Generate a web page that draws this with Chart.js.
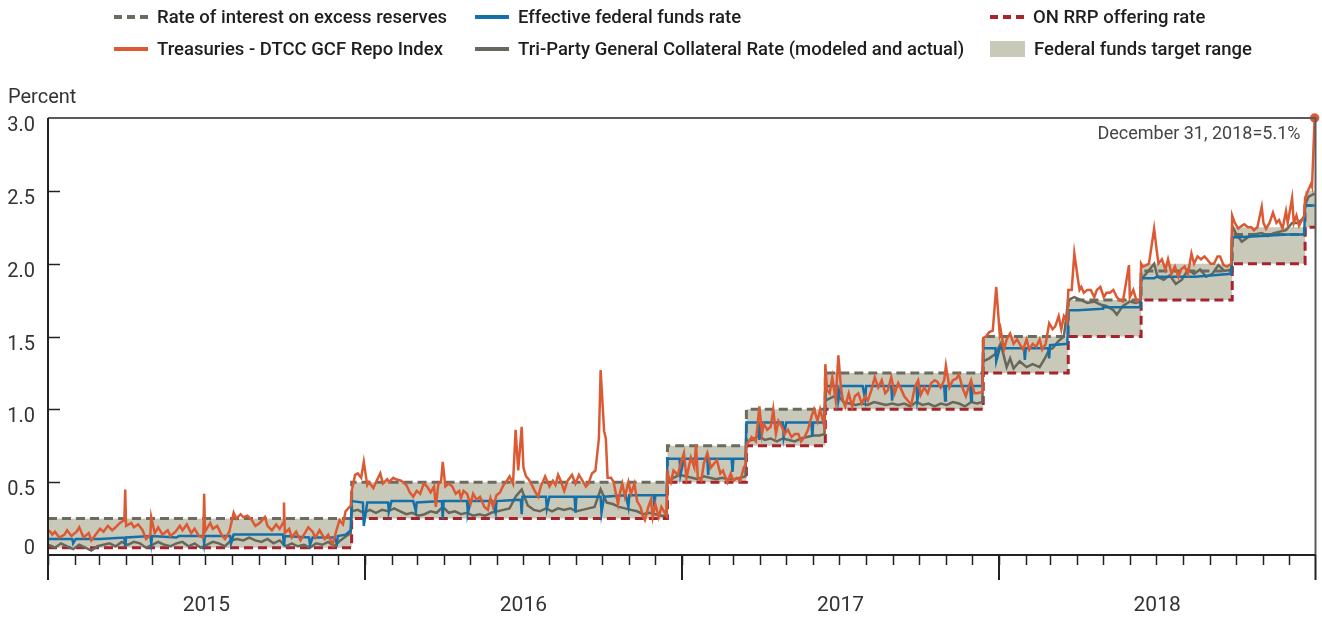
<!DOCTYPE html>
<html lang="en">
<head>
<meta charset="UTF-8">
<title>Money market rates, 2015-2018</title>
<script src="https://cdn.jsdelivr.net/npm/chart.js"></script>
<style>
    html, body { margin: 0; padding: 0; background: #fff; }
    body { width: 1322px; height: 617px; position: relative; overflow: hidden; font-family: Roboto, "Noto Sans", sans-serif; }
    #chartBox { position: absolute; left: 0; top: 0; width: 1322px; height: 617px; }
    .legend-item { position: absolute; display: flex; align-items: center; height: 22px; font-size: 18.5px; font-weight: 500; color: #1e1e1e; white-space: nowrap; }
    .legend-item svg { margin-right: 9px; flex: none; }
</style>
</head>
<body>
<div id="chartBox"><canvas id="chart"></canvas></div>
<div id="legend"></div>
<script>
// policy rates: each value holds from its start date until the next one
const policyDates = ['2015-01-01', '2015-12-17', '2016-12-15', '2017-03-16', '2017-06-15', '2017-12-14', '2018-03-22', '2018-06-14', '2018-09-27', '2018-12-20'];
const ioerRates  = [0.25, 0.50, 0.75, 1.00, 1.25, 1.50, 1.75, 1.95, 2.20, 2.40];
const rrpRates   = [0.05, 0.25, 0.50, 0.75, 1.00, 1.25, 1.50, 1.75, 2.00, 2.25];
const rangeLow   = [0.05, 0.25, 0.50, 0.75, 1.00, 1.25, 1.50, 1.75, 2.00, 2.25];
const rangeHigh  = [0.25, 0.50, 0.75, 1.00, 1.25, 1.50, 1.75, 2.00, 2.25, 2.50];
const seriesEnd = '2019-01-01';

// Treasuries - DTCC GCF Repo Index
const repoIndex = [
    ['2015-01-02',0.17],['2015-01-06',0.14],['2015-01-09',0.16],['2015-01-14',0.12],['2015-01-20',0.14],['2015-01-23',0.17],['2015-01-28',0.13],
    ['2015-02-03',0.16],['2015-02-06',0.19],['2015-02-11',0.12],['2015-02-17',0.15],['2015-02-20',0.10],['2015-02-25',0.14],
    ['2015-03-02',0.18],['2015-03-06',0.16],['2015-03-11',0.20],['2015-03-16',0.17],['2015-03-20',0.19],['2015-03-25',0.22],['2015-03-30',0.24],['2015-03-31',0.45],
    ['2015-04-01',0.20],['2015-04-07',0.22],['2015-04-10',0.19],['2015-04-15',0.21],['2015-04-20',0.17],['2015-04-24',0.11],['2015-04-29',0.14],['2015-04-30',0.26],
    ['2015-05-04',0.15],['2015-05-08',0.19],['2015-05-13',0.14],['2015-05-19',0.17],['2015-05-22',0.13],['2015-05-28',0.16],
    ['2015-06-02',0.20],['2015-06-05',0.17],['2015-06-10',0.21],['2015-06-15',0.15],['2015-06-19',0.18],['2015-06-24',0.13],['2015-06-29',0.12],['2015-06-30',0.42],
    ['2015-07-01',0.16],['2015-07-07',0.22],['2015-07-10',0.18],['2015-07-15',0.20],['2015-07-20',0.14],['2015-07-24',0.11],['2015-07-29',0.16],
    ['2015-08-03',0.29],['2015-08-06',0.25],['2015-08-11',0.28],['2015-08-14',0.26],['2015-08-19',0.27],['2015-08-24',0.24],['2015-08-28',0.20],
    ['2015-09-02',0.22],['2015-09-08',0.26],['2015-09-11',0.20],['2015-09-16',0.17],['2015-09-21',0.21],['2015-09-25',0.18],['2015-09-29',0.22],['2015-09-30',0.36],
    ['2015-10-01',0.15],['2015-10-06',0.18],['2015-10-09',0.12],['2015-10-14',0.16],['2015-10-19',0.10],['2015-10-23',0.14],['2015-10-28',0.19],
    ['2015-11-02',0.16],['2015-11-05',0.12],['2015-11-10',0.17],['2015-11-16',0.11],['2015-11-20',0.14],['2015-11-25',0.07],['2015-11-30',0.18],
    ['2015-12-03',0.24],['2015-12-07',0.21],['2015-12-10',0.30],['2015-12-16',0.34],['2015-12-17',0.44],['2015-12-21',0.55],['2015-12-24',0.56],['2015-12-28',0.53],['2015-12-31',0.64],
    ['2016-01-04',0.48],['2016-01-06',0.50],['2016-01-11',0.46],['2016-01-14',0.50],['2016-01-19',0.56],['2016-01-22',0.49],['2016-01-27',0.52],['2016-01-29',0.50],
    ['2016-02-03',0.53],['2016-02-06',0.52],['2016-02-12',0.51],['2016-02-18',0.48],['2016-02-22',0.43],['2016-02-26',0.40],
    ['2016-03-01',0.44],['2016-03-05',0.42],['2016-03-09',0.49],['2016-03-13',0.47],['2016-03-17',0.43],['2016-03-21',0.47],['2016-03-23',0.33],['2016-03-26',0.49],['2016-03-29',0.50],['2016-03-31',0.64],
    ['2016-04-03',0.47],['2016-04-07',0.49],['2016-04-11',0.47],['2016-04-15',0.42],['2016-04-19',0.44],['2016-04-21',0.39],['2016-04-24',0.44],['2016-04-28',0.42],
    ['2016-05-02',0.35],['2016-05-05',0.42],['2016-05-09',0.38],['2016-05-13',0.40],['2016-05-18',0.33],['2016-05-22',0.31],['2016-05-25',0.39],['2016-05-28',0.33],
    ['2016-06-01',0.41],['2016-06-05',0.43],['2016-06-09',0.48],['2016-06-12',0.50],['2016-06-16',0.54],['2016-06-20',0.49],['2016-06-23',0.86],['2016-06-26',0.58],['2016-06-30',0.88],
    ['2016-07-02',0.60],['2016-07-05',0.54],['2016-07-08',0.52],['2016-07-11',0.49],['2016-07-15',0.44],['2016-07-19',0.40],['2016-07-22',0.47],['2016-07-27',0.54],
    ['2016-08-01',0.47],['2016-08-05',0.51],['2016-08-08',0.48],['2016-08-11',0.55],['2016-08-14',0.51],['2016-08-18',0.44],['2016-08-22',0.51],['2016-08-27',0.55],['2016-08-31',0.49],
    ['2016-09-04',0.55],['2016-09-08',0.51],['2016-09-12',0.47],['2016-09-15',0.49],['2016-09-19',0.56],['2016-09-23',0.58],['2016-09-27',0.80],['2016-09-29',1.27],
    ['2016-10-03',0.85],['2016-10-05',0.80],['2016-10-07',0.53],['2016-10-11',0.53],['2016-10-14',0.50],['2016-10-16',0.44],['2016-10-19',0.35],['2016-10-21',0.42],['2016-10-24',0.49],['2016-10-27',0.40],['2016-10-31',0.50],
    ['2016-11-03',0.42],['2016-11-07',0.49],['2016-11-10',0.37],['2016-11-14',0.33],['2016-11-17',0.26],['2016-11-19',0.24],['2016-11-23',0.33],['2016-11-26',0.38],['2016-11-28',0.26],
    ['2016-12-01',0.35],['2016-12-05',0.26],['2016-12-08',0.33],['2016-12-14',0.27],['2016-12-15',0.56],['2016-12-19',0.50],['2016-12-22',0.58],['2016-12-27',0.55],['2016-12-30',0.62],
    ['2017-01-03',0.70],['2017-01-06',0.53],['2017-01-11',0.67],['2017-01-15',0.60],['2017-01-17',0.76],['2017-01-19',0.53],['2017-01-23',0.51],['2017-01-26',0.63],['2017-01-30',0.70],
    ['2017-02-03',0.60],['2017-02-07',0.63],['2017-02-10',0.65],['2017-02-14',0.56],['2017-02-17',0.58],['2017-02-22',0.50],['2017-02-26',0.56],
    ['2017-03-01',0.51],['2017-03-05',0.53],['2017-03-09',0.51],['2017-03-13',0.60],['2017-03-15',0.62],['2017-03-16',0.76],['2017-03-19',0.78],['2017-03-22',0.81],['2017-03-27',0.78],['2017-03-31',1.02],
    ['2017-04-03',0.83],['2017-04-05',0.90],['2017-04-09',0.86],['2017-04-13',0.88],['2017-04-16',1.00],['2017-04-19',0.83],['2017-04-22',0.92],['2017-04-26',0.88],['2017-04-29',0.83],
    ['2017-05-03',0.86],['2017-05-07',0.81],['2017-05-11',0.83],['2017-05-15',0.83],['2017-05-18',0.78],['2017-05-22',0.81],['2017-05-26',0.86],['2017-05-30',0.95],
    ['2017-06-02',1.00],['2017-06-06',0.92],['2017-06-09',1.00],['2017-06-14',0.88],['2017-06-15',1.31],['2017-06-17',1.13],['2017-06-20',1.11],['2017-06-23',1.22],['2017-06-27',1.06],['2017-06-30',1.37],
    ['2017-07-03',1.15],['2017-07-05',1.07],['2017-07-08',1.02],['2017-07-12',1.11],['2017-07-16',1.02],['2017-07-19',1.09],['2017-07-23',1.11],['2017-07-27',1.04],['2017-07-31',1.09],
    ['2017-08-03',1.06],['2017-08-07',1.13],['2017-08-11',1.22],['2017-08-15',1.15],['2017-08-19',1.20],['2017-08-23',1.11],['2017-08-26',1.13],['2017-08-30',1.22],
    ['2017-09-03',1.11],['2017-09-07',1.18],['2017-09-11',1.13],['2017-09-14',1.09],['2017-09-18',1.06],['2017-09-22',1.03],['2017-09-26',1.15],['2017-09-30',1.20],
    ['2017-10-03',1.10],['2017-10-07',1.15],['2017-10-11',1.11],['2017-10-15',1.18],['2017-10-19',1.20],['2017-10-22',1.19],['2017-10-26',1.15],['2017-10-30',1.20],
    ['2017-11-01',1.30],['2017-11-05',1.15],['2017-11-09',1.20],['2017-11-13',1.21],['2017-11-16',1.24],['2017-11-20',1.15],['2017-11-24',1.09],['2017-11-27',1.15],['2017-11-30',1.20],
    ['2017-12-04',1.11],['2017-12-07',1.11],['2017-12-13',1.12],['2017-12-14',1.49],['2017-12-17',1.50],['2017-12-21',1.53],['2017-12-25',1.54],['2017-12-29',1.84],
    ['2018-01-02',1.52],['2018-01-03',1.55],['2018-01-07',1.41],['2018-01-10',1.48],['2018-01-14',1.52],['2018-01-18',1.45],['2018-01-22',1.48],['2018-01-25',1.45],['2018-01-29',1.41],
    ['2018-02-02',1.48],['2018-02-05',1.41],['2018-02-09',1.45],['2018-02-13',1.43],['2018-02-17',1.48],['2018-02-20',1.41],['2018-02-24',1.45],['2018-02-28',1.59],
    ['2018-03-04',1.55],['2018-03-07',1.57],['2018-03-11',1.64],['2018-03-14',1.55],['2018-03-17',1.64],['2018-03-21',1.60],['2018-03-22',1.82],['2018-03-26',1.82],['2018-03-29',2.07],
    ['2018-04-02',1.90],['2018-04-04',1.82],['2018-04-06',1.84],['2018-04-09',1.80],['2018-04-13',1.82],['2018-04-17',1.82],['2018-04-21',1.77],['2018-04-24',1.82],['2018-04-28',1.84],
    ['2018-05-02',1.77],['2018-05-05',1.80],['2018-05-09',1.80],['2018-05-13',1.82],['2018-05-17',1.77],['2018-05-20',1.75],['2018-05-24',1.74],['2018-05-31',1.99],
    ['2018-06-01',1.77],['2018-06-05',1.82],['2018-06-09',1.74],['2018-06-13',1.76],['2018-06-14',2.00],['2018-06-16',1.98],['2018-06-20',1.99],['2018-06-23',2.00],['2018-06-29',2.24],
    ['2018-07-02',2.09],['2018-07-04',2.00],['2018-07-08',2.03],['2018-07-12',1.96],['2018-07-15',2.03],['2018-07-19',1.93],['2018-07-23',1.98],['2018-07-27',1.91],['2018-07-30',1.96],
    ['2018-08-03',1.98],['2018-08-07',1.93],['2018-08-11',2.07],['2018-08-14',2.00],['2018-08-18',2.05],['2018-08-22',2.03],['2018-08-26',2.05],['2018-08-29',2.03],
    ['2018-09-02',2.00],['2018-09-06',2.00],['2018-09-10',2.05],['2018-09-13',2.05],['2018-09-17',1.99],['2018-09-21',1.98],['2018-09-26',2.00],['2018-09-27',2.33],['2018-09-30',2.28],
    ['2018-10-04',2.24],['2018-10-08',2.26],['2018-10-11',2.27],['2018-10-15',2.25],['2018-10-19',2.25],['2018-10-22',2.23],['2018-10-26',2.25],['2018-10-31',2.39],
    ['2018-11-02',2.28],['2018-11-05',2.24],['2018-11-09',2.28],['2018-11-13',2.35],['2018-11-17',2.28],['2018-11-20',2.30],['2018-11-24',2.24],['2018-11-28',2.36],['2018-11-30',2.28],
    ['2018-12-05',2.45],['2018-12-07',2.28],['2018-12-10',2.33],['2018-12-13',2.26],['2018-12-19',2.33],['2018-12-20',2.45],['2018-12-24',2.51],['2018-12-27',2.55],['2018-12-28',2.53],['2018-12-31',5.1]
];

// Effective federal funds rate
const effectiveFedFunds = [
    ['2015-01-01',0.11],['2015-01-29',0.11],['2015-01-30',0.08],['2015-02-02',0.11],['2015-02-27',0.11],['2015-03-02',0.11],['2015-03-30',0.12],['2015-03-31',0.06],
    ['2015-04-01',0.12],['2015-04-29',0.13],['2015-04-30',0.08],['2015-05-01',0.13],['2015-05-29',0.12],['2015-06-01',0.13],['2015-06-29',0.13],['2015-06-30',0.08],
    ['2015-07-01',0.13],['2015-07-30',0.13],['2015-07-31',0.08],['2015-08-03',0.14],['2015-08-31',0.14],['2015-09-01',0.14],['2015-09-29',0.14],['2015-09-30',0.06],
    ['2015-10-01',0.13],['2015-10-29',0.12],['2015-10-30',0.07],['2015-11-02',0.12],['2015-11-27',0.12],['2015-11-30',0.08],['2015-12-01',0.13],['2015-12-10',0.14],
    ['2015-12-16',0.17],['2015-12-17',0.37],['2015-12-30',0.36],['2015-12-31',0.20],
    ['2016-01-04',0.36],['2016-01-28',0.36],['2016-01-29',0.30],['2016-02-01',0.37],['2016-02-26',0.37],['2016-02-29',0.30],['2016-03-01',0.36],['2016-03-30',0.37],['2016-03-31',0.25],
    ['2016-04-01',0.37],['2016-04-28',0.37],['2016-04-29',0.29],['2016-05-02',0.37],['2016-05-27',0.37],['2016-05-31',0.29],['2016-06-01',0.37],['2016-06-29',0.38],['2016-06-30',0.28],
    ['2016-07-01',0.40],['2016-07-28',0.40],['2016-07-29',0.32],['2016-08-01',0.40],['2016-08-30',0.40],['2016-08-31',0.29],['2016-09-01',0.40],['2016-09-29',0.40],['2016-09-30',0.29],
    ['2016-10-03',0.40],['2016-10-28',0.41],['2016-10-31',0.33],['2016-11-01',0.41],['2016-11-29',0.41],['2016-11-30',0.33],['2016-12-01',0.41],['2016-12-14',0.41],
    ['2016-12-15',0.66],['2016-12-29',0.66],['2016-12-30',0.55],
    ['2017-01-03',0.66],['2017-01-30',0.66],['2017-01-31',0.55],['2017-02-01',0.66],['2017-02-27',0.66],['2017-02-28',0.57],['2017-03-01',0.66],['2017-03-15',0.66],
    ['2017-03-16',0.91],['2017-03-30',0.91],['2017-03-31',0.79],['2017-04-03',0.91],['2017-04-27',0.91],['2017-04-28',0.81],['2017-05-01',0.91],['2017-05-30',0.91],['2017-05-31',0.81],
    ['2017-06-01',0.91],['2017-06-14',0.91],['2017-06-15',1.16],['2017-06-29',1.16],['2017-06-30',1.06],['2017-07-03',1.16],['2017-07-28',1.16],['2017-07-31',1.07],
    ['2017-08-01',1.16],['2017-08-30',1.16],['2017-08-31',1.06],['2017-09-01',1.16],['2017-09-28',1.16],['2017-09-29',1.06],['2017-10-02',1.16],['2017-10-30',1.16],['2017-10-31',1.06],
    ['2017-11-01',1.16],['2017-11-29',1.16],['2017-11-30',1.06],['2017-12-01',1.16],['2017-12-13',1.16],['2017-12-14',1.42],['2017-12-28',1.42],['2017-12-29',1.33],
    ['2018-01-02',1.42],['2018-01-30',1.42],['2018-01-31',1.34],['2018-02-01',1.42],['2018-02-27',1.42],['2018-02-28',1.35],['2018-03-01',1.44],['2018-03-21',1.45],
    ['2018-03-22',1.68],['2018-03-29',1.68],['2018-04-02',1.68],['2018-04-30',1.69],['2018-05-01',1.70],['2018-06-13',1.70],
    ['2018-06-14',1.90],['2018-06-29',1.90],['2018-07-02',1.91],['2018-08-15',1.91],['2018-09-26',1.93],
    ['2018-09-27',2.18],['2018-10-31',2.19],['2018-11-30',2.20],['2018-12-19',2.20],['2018-12-20',2.40],['2018-12-31',2.40]
];

// Tri-Party General Collateral Rate (modeled and actual)
const triPartyGC = [
    ['2015-01-02',0.07],['2015-01-09',0.05],['2015-01-16',0.08],['2015-01-23',0.06],['2015-01-30',0.04],['2015-02-06',0.07],['2015-02-13',0.05],['2015-02-20',0.03],['2015-02-27',0.06],
    ['2015-03-06',0.07],['2015-03-13',0.08],['2015-03-20',0.06],['2015-03-27',0.09],['2015-04-03',0.07],['2015-04-10',0.09],['2015-04-17',0.08],['2015-04-24',0.05],
    ['2015-05-01',0.07],['2015-05-08',0.09],['2015-05-15',0.07],['2015-05-22',0.06],['2015-05-29',0.08],['2015-06-05',0.09],['2015-06-12',0.06],['2015-06-19',0.08],['2015-06-26',0.05],
    ['2015-07-03',0.07],['2015-07-10',0.09],['2015-07-17',0.08],['2015-07-24',0.06],['2015-07-31',0.10],['2015-08-07',0.11],['2015-08-14',0.10],['2015-08-21',0.12],['2015-08-28',0.10],
    ['2015-09-04',0.09],['2015-09-11',0.11],['2015-09-18',0.08],['2015-09-25',0.10],['2015-10-02',0.06],['2015-10-09',0.08],['2015-10-16',0.06],['2015-10-23',0.07],['2015-10-30',0.05],
    ['2015-11-06',0.08],['2015-11-13',0.07],['2015-11-20',0.09],['2015-11-27',0.06],['2015-12-04',0.10],['2015-12-11',0.13],['2015-12-16',0.15],['2015-12-17',0.30],['2015-12-24',0.31],['2015-12-31',0.29],
    ['2016-01-07',0.31],['2016-01-14',0.29],['2016-01-21',0.31],['2016-01-28',0.30],['2016-02-04',0.32],['2016-02-11',0.30],['2016-02-18',0.28],['2016-02-25',0.29],
    ['2016-03-03',0.27],['2016-03-10',0.28],['2016-03-17',0.30],['2016-03-24',0.29],['2016-03-31',0.33],['2016-04-07',0.29],['2016-04-14',0.30],['2016-04-21',0.28],['2016-04-28',0.29],
    ['2016-05-05',0.27],['2016-05-12',0.28],['2016-05-19',0.27],['2016-05-26',0.29],['2016-06-02',0.30],['2016-06-09',0.31],['2016-06-16',0.32],['2016-06-23',0.40],['2016-06-30',0.45],
    ['2016-07-07',0.34],['2016-07-14',0.31],['2016-07-21',0.30],['2016-07-28',0.32],['2016-08-04',0.30],['2016-08-11',0.32],['2016-08-18',0.31],['2016-08-25',0.32],
    ['2016-09-01',0.30],['2016-09-08',0.31],['2016-09-15',0.32],['2016-09-22',0.33],['2016-09-29',0.45],['2016-10-06',0.36],['2016-10-13',0.35],['2016-10-20',0.33],['2016-10-27',0.32],
    ['2016-11-03',0.31],['2016-11-10',0.30],['2016-11-17',0.28],['2016-11-24',0.29],['2016-12-01',0.28],['2016-12-08',0.27],['2016-12-14',0.27],['2016-12-15',0.50],['2016-12-22',0.53],['2016-12-29',0.55],
    ['2017-01-05',0.54],['2017-01-12',0.53],['2017-01-19',0.52],['2017-01-26',0.54],['2017-02-02',0.53],['2017-02-09',0.52],['2017-02-16',0.53],['2017-02-23',0.52],
    ['2017-03-02',0.52],['2017-03-09',0.53],['2017-03-15',0.54],['2017-03-16',0.78],['2017-03-23',0.79],['2017-03-30',0.82],['2017-04-06',0.79],['2017-04-13',0.80],['2017-04-20',0.78],['2017-04-27',0.80],
    ['2017-05-04',0.79],['2017-05-11',0.78],['2017-05-18',0.80],['2017-05-25',0.81],['2017-06-01',0.82],['2017-06-08',0.82],['2017-06-14',0.83],['2017-06-15',1.06],['2017-06-22',1.08],['2017-06-29',1.10],
    ['2017-07-06',1.05],['2017-07-13',1.04],['2017-07-20',1.03],['2017-07-27',1.04],['2017-08-03',1.03],['2017-08-10',1.05],['2017-08-17',1.04],['2017-08-24',1.03],['2017-08-31',1.04],
    ['2017-09-07',1.03],['2017-09-14',1.04],['2017-09-21',1.02],['2017-09-28',1.05],['2017-10-05',1.03],['2017-10-12',1.04],['2017-10-19',1.02],['2017-10-26',1.04],
    ['2017-11-02',1.03],['2017-11-09',1.05],['2017-11-16',1.04],['2017-11-23',1.02],['2017-11-30',1.05],['2017-12-07',1.04],['2017-12-13',1.05],['2017-12-14',1.33],['2017-12-21',1.35],['2017-12-28',1.38],
    ['2018-01-03',1.45],['2018-01-07',1.36],['2018-01-10',1.29],['2018-01-14',1.35],['2018-01-18',1.28],['2018-01-25',1.33],['2018-02-02',1.29],['2018-02-09',1.31],['2018-02-17',1.29],['2018-02-24',1.36],
    ['2018-02-28',1.41],['2018-03-04',1.42],['2018-03-11',1.47],['2018-03-17',1.50],['2018-03-22',1.75],['2018-03-29',1.77],['2018-04-06',1.75],['2018-04-13',1.73],['2018-04-21',1.74],['2018-04-28',1.72],
    ['2018-05-05',1.71],['2018-05-13',1.68],['2018-05-17',1.65],['2018-05-24',1.71],['2018-06-01',1.74],['2018-06-08',1.73],['2018-06-13',1.74],['2018-06-14',1.89],['2018-06-21',1.94],['2018-06-29',2.00],
    ['2018-07-03',1.91],['2018-07-10',1.89],['2018-07-17',1.92],['2018-07-24',1.86],['2018-07-31',1.89],['2018-08-07',1.96],['2018-08-14',1.93],['2018-08-21',1.96],['2018-08-28',1.91],
    ['2018-09-04',1.93],['2018-09-11',1.99],['2018-09-18',1.95],['2018-09-26',1.96],['2018-09-27',2.26],['2018-10-01',2.21],['2018-10-08',2.15],['2018-10-15',2.18],['2018-10-22',2.20],['2018-10-31',2.21],
    ['2018-11-07',2.19],['2018-11-14',2.21],['2018-11-21',2.22],['2018-11-28',2.23],['2018-12-05',2.28],['2018-12-12',2.28],['2018-12-19',2.32],['2018-12-20',2.40],['2018-12-24',2.46],['2018-12-31',2.48]
];

const yearStarts = ['2015-01-01', '2016-01-01', '2017-01-01', '2018-01-01', '2019-01-01'];
const yearLabels = ['2015', '2016', '2017', '2018'];
const yTickValues = [0, 0.5, 1.0, 1.5, 2.0, 2.5, 3.0];
const yTickLabels = ['0', '0.5', '1.0', '1.5', '2.0', '2.5', '3.0'];
const yMax = 3.0;

const colors = {
    ioer: '#6b6b5f',
    effr: '#1470a8',
    rrp: '#a8232c',
    repo: '#dc5a33',
    triParty: '#67675b',
    band: '#c9c9b9'
};

// days since 1 Jan 2015 -> linear x axis
const dayOf = s => (Date.UTC(+s.slice(0, 4), +s.slice(5, 7) - 1, +s.slice(8, 10)) - Date.UTC(2015, 0, 1)) / 86400000;
const steps = values => policyDates.map((d, i) => ({ x: dayOf(d), y: values[i] }))
    .concat([{ x: dayOf(seriesEnd), y: values[values.length - 1] }]);
const points = pairs => pairs.map(([d, v]) => ({ x: dayOf(d), y: Math.min(v, yMax) }));

const xEnd = dayOf(seriesEnd);
const yearTicks = yearStarts.map(dayOf);
const yearMids = yearLabels.map((_, i) => (yearTicks[i] + yearTicks[i + 1]) / 2);
const monthTicks = [];
for (let y = 2015; y <= 2018; y++) {
    for (let m = 1; m <= 12; m++) monthTicks.push(dayOf(`${y}-${String(m).padStart(2, '0')}-01`));
}

const lastRepo = repoIndex.length - 1;

// axis lines, tick marks, y labels and free text
const frame = {
    id: 'frame',
    afterDraw(chart) {
        const { ctx, chartArea: a, scales: { x, y } } = chart;
        ctx.save();
        ctx.strokeStyle = '#5a5a5a';
        ctx.lineWidth = 2;
        ctx.beginPath();
        ctx.moveTo(a.left, a.top);
        ctx.lineTo(a.right, a.top);
        ctx.lineTo(a.right, a.bottom);
        ctx.stroke();

        ctx.strokeStyle = '#222';
        ctx.lineWidth = 2;
        ctx.beginPath();
        ctx.moveTo(a.left, a.top);
        ctx.lineTo(a.left, a.bottom);
        ctx.lineTo(a.right, a.bottom);
        ctx.stroke();

        ctx.lineWidth = 1.5;
        ctx.beginPath();
        monthTicks.forEach(d => {
            const px = Math.round(x.getPixelForValue(d)) + 0.5;
            ctx.moveTo(px, a.bottom);
            ctx.lineTo(px, a.bottom + 10);
        });
        ctx.stroke();
        ctx.lineWidth = 2;
        ctx.beginPath();
        yearTicks.forEach(d => {
            const px = Math.min(Math.round(x.getPixelForValue(d)), a.right);
            ctx.moveTo(px, a.bottom);
            ctx.lineTo(px, a.bottom + 25);
        });
        ctx.stroke();
        ctx.lineWidth = 1.5;
        ctx.beginPath();
        yTickValues.slice(1, -1).forEach(v => {
            const py = Math.round(y.getPixelForValue(v)) + 0.5;
            ctx.moveTo(a.left, py);
            ctx.lineTo(a.left + 12, py);
        });
        ctx.stroke();

        // y labels sit just under their tick, the zero label just above the axis
        ctx.fillStyle = '#333';
        ctx.font = '20px Roboto';
        ctx.textAlign = 'right';
        ctx.textBaseline = 'middle';
        yTickValues.forEach((v, i) => {
            const py = y.getPixelForValue(v);
            ctx.fillText(yTickLabels[i], a.left - 13, v === 0 ? py - 6 : py + 8);
        });

        ctx.textAlign = 'left';
        ctx.fillText('Percent', 8, 98);
        ctx.fillStyle = '#444';
        ctx.font = '18px Roboto';
        ctx.textAlign = 'right';
        ctx.fillText('December 31, 2018=5.1%', a.right - 15, a.top + 16);
        ctx.restore();
    }
};

const stepLine = (label, values, color) => ({
    label, data: steps(values), stepped: 'before', borderColor: color, borderWidth: 3,
    borderDash: [9, 5], pointRadius: 0, fill: false
});

new Chart(document.getElementById('chart'), {
    type: 'line',
    data: {
        datasets: [
            {
                label: 'Treasuries - DTCC GCF Repo Index', data: points(repoIndex), borderColor: colors.repo,
                backgroundColor: colors.repo, borderWidth: 2.5, clip: 6,
                pointRadius: c => c.dataIndex === lastRepo ? 3.5 : 0
            },
            { label: 'Effective federal funds rate', data: points(effectiveFedFunds), borderColor: colors.effr, borderWidth: 2.5, pointRadius: 0 },
            { label: 'Tri-Party General Collateral Rate (modeled and actual)', data: points(triPartyGC), borderColor: colors.triParty, borderWidth: 2.5, pointRadius: 0 },
            stepLine('ON RRP offering rate', rrpRates, colors.rrp),
            stepLine('Rate of interest on excess reserves', ioerRates, colors.ioer),
            {
                label: 'Federal funds target range', data: steps(rangeHigh), stepped: 'before', borderWidth: 0,
                pointRadius: 0, fill: '+1', backgroundColor: colors.band
            },
            { label: 'range low', data: steps(rangeLow), stepped: 'before', borderWidth: 0, pointRadius: 0, fill: false }
        ]
    },
    options: {
        responsive: true,
        maintainAspectRatio: false,
        animation: false,
        layout: { padding: { top: 118, right: 4, left: 0, bottom: 0 } },
        plugins: { legend: { display: false }, tooltip: { enabled: false } },
        elements: { line: { tension: 0 } },
        scales: {
            x: {
                type: 'linear', min: 0, max: xEnd,
                afterFit: s => { s.height = 62; },
                afterBuildTicks: s => { s.ticks = yearMids.map(v => ({ value: v })); },
                ticks: {
                    autoSkip: false, maxRotation: 0, padding: 38, color: '#333',
                    font: { family: 'Roboto', size: 21 },
                    callback: (v, i) => yearLabels[i]
                },
                grid: { display: false, drawTicks: false },
                border: { display: false }
            },
            y: {
                min: 0, max: yMax,
                afterFit: s => { s.width = 48; },
                afterBuildTicks: s => { s.ticks = yTickValues.map(v => ({ value: v })); },
                ticks: { display: false },
                grid: { display: false, drawTicks: false },
                border: { display: false }
            }
        }
    },
    plugins: [frame]
});

// legend, laid out in three columns as in the source figure
const legendEntries = [
    { text: 'Rate of interest on excess reserves', color: colors.ioer, kind: 'dash', col: 0, row: 0 },
    { text: 'Effective federal funds rate', color: colors.effr, kind: 'line', col: 1, row: 0 },
    { text: 'ON RRP offering rate', color: colors.rrp, kind: 'dash', col: 2, row: 0 },
    { text: 'Treasuries - DTCC GCF Repo Index', color: colors.repo, kind: 'line', col: 0, row: 1 },
    { text: 'Tri-Party General Collateral Rate (modeled and actual)', color: colors.triParty, kind: 'line', col: 1, row: 1 },
    { text: 'Federal funds target range', color: colors.band, kind: 'box', col: 2, row: 1 }
];
const colLeft = [114, 475, 990];
const rowTop = [6, 38];
const legendBox = document.getElementById('legend');
legendEntries.forEach(e => {
    const item = document.createElement('div');
    item.className = 'legend-item';
    item.style.left = colLeft[e.col] + 'px';
    item.style.top = rowTop[e.row] + 'px';
    let swatch;
    if (e.kind === 'box') {
        swatch = `<svg width="35" height="16"><rect x="0" y="0" width="35" height="16" fill="${e.color}"/></svg>`;
    } else {
        const dash = e.kind === 'dash' ? 'stroke-dasharray="8 5"' : '';
        swatch = `<svg width="34" height="8"><line x1="0" y1="4" x2="34" y2="4" stroke="${e.color}" stroke-width="4" ${dash}/></svg>`;
    }
    item.innerHTML = swatch + `<span>${e.text}</span>`;
    legendBox.appendChild(item);
});
</script>
</body>
</html>
